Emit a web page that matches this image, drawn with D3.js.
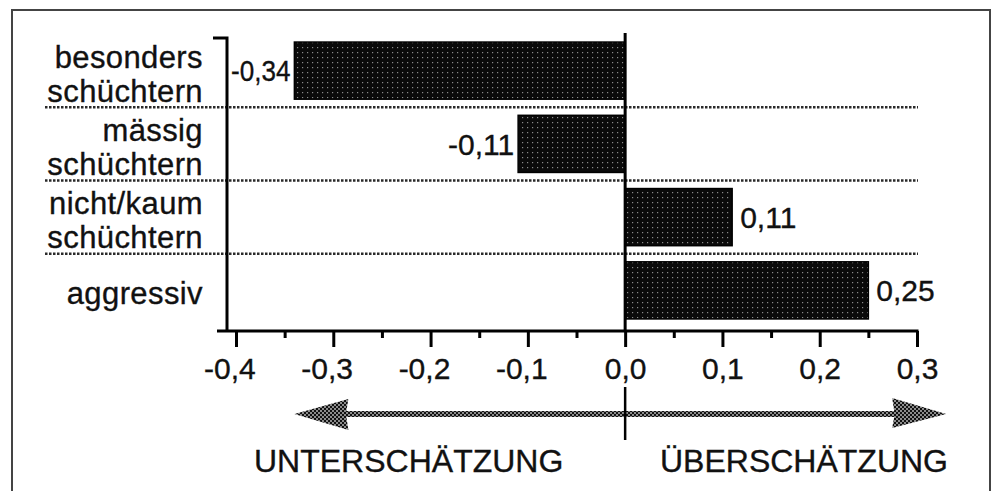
<!DOCTYPE html>
<html>
<head>
<meta charset="utf-8">
<script src="https://cdn.jsdelivr.net/npm/d3@7"></script>
<style>
	body { margin: 0; background: #fff; }
	text { font-family: "Liberation Sans", Arial, Helvetica, sans-serif; fill: #111; stroke: #111; stroke-width: 0.35px; }
</style>
</head>
<body>
<div class="chart"></div>
<script>
// data
const categories = ['besonders schüchtern', 'mässig schüchtern', 'nicht/kaum schüchtern', 'aggressiv']
const categoryLines = [['besonders', 'schüchtern'], ['mässig', 'schüchtern'], ['nicht/kaum', 'schüchtern'], ['aggressiv']]
const values = [-0.34, -0.11, 0.11, 0.25]
const valueLabels = ['-0,34', '-0,11', '0,11', '0,25']
const tickValues = [-0.4, -0.3, -0.2, -0.1, 0, 0.1, 0.2, 0.3]
const tickLabels = ['-0,4', '-0,3', '-0,2', '-0,1', '0,0', '0,1', '0,2', '0,3']
const minorTicks = [-0.35, -0.25, -0.15, -0.05, 0.05, 0.15, 0.25]
const directionLabels = ['UNTERSCHÄTZUNG', 'ÜBERSCHÄTZUNG']
const arrowExtent = [-0.34, 0.33]

const width = 992
const height = 491

const svg = d3.select('.chart')
	.append('svg')
	.attr('width', width)
	.attr('height', height)
	.attr('viewBox', [0, 0, width, height])

// fill patterns (stippled bars, checkered arrow)
const defs = svg.append('defs')
const barPat = defs.append('pattern')
	.attr('id', 'stipple')
	.attr('patternUnits', 'userSpaceOnUse')
	.attr('width', 5).attr('height', 5)
barPat.append('rect').attr('width', 5).attr('height', 5).attr('fill', '#0a0a0a')
barPat.append('rect').attr('x', 2).attr('y', 2).attr('width', 1.2).attr('height', 1.2).attr('fill', '#8a8a8a')

const arrowPat = defs.append('pattern')
	.attr('id', 'checker')
	.attr('patternUnits', 'userSpaceOnUse')
	.attr('width', 4).attr('height', 4)
arrowPat.append('rect').attr('width', 4).attr('height', 4).attr('fill', '#8c8c8c')
arrowPat.append('rect').attr('width', 2).attr('height', 2).attr('fill', '#111')
arrowPat.append('rect').attr('x', 2).attr('y', 2).attr('width', 2).attr('height', 2).attr('fill', '#111')

// outer frame (bottom edge runs off the picture)
svg.append('rect')
	.attr('x', 12).attr('y', 10)
	.attr('width', 978).attr('height', 500)
	.attr('fill', 'none')
	.attr('stroke', '#444')
	.attr('stroke-width', 2)

const x = d3.scaleLinear().domain([-0.4, 0.3]).range([236, 917])
const y = d3.scaleBand().domain(categories).range([34, 327]).paddingInner(0.22).paddingOuter(0.11)
const axisY = 331

// dotted separators between rows
const seps = categories.slice(1).map(c => y(c) - y.step() * y.paddingInner() / 2)
svg.selectAll('line.sep')
	.data(seps)
	.enter()
	.append('line')
	.attr('class', 'sep')
	.attr('x1', 45).attr('x2', 918)
	.attr('y1', d => d).attr('y2', d => d)
	.attr('stroke', '#2a2a2a')
	.attr('stroke-width', 2.6)
	.attr('stroke-dasharray', '2.5,1.5')

// bars
svg.selectAll('rect.bar')
	.data(values)
	.enter()
	.append('rect')
	.attr('class', 'bar')
	.attr('x', d => x(Math.min(0, d)))
	.attr('y', (d, i) => y(categories[i]))
	.attr('width', d => Math.abs(x(d) - x(0)))
	.attr('height', y.bandwidth())
	.attr('fill', 'url(#stipple)')
	.attr('stroke', '#000')
	.attr('stroke-width', 1.5)

// value labels
svg.selectAll('text.value')
	.data(values)
	.enter()
	.append('text')
	.attr('class', 'value')
	.text((d, i) => valueLabels[i])
	.attr('x', d => d < 0 ? x(d) - 4 : x(d) + 8)
	.attr('y', (d, i) => y(categories[i]) + y.bandwidth() / 2)
	.attr('dy', '0.36em')
	.attr('text-anchor', d => d < 0 ? 'end' : 'start')
	.attr('font-size', '30px')
	.each(function(d) {
		// keep the longest negative label clear of the left axis
		if (d >= 0) return
		const box = this.getBBox()
		if (box.x < 231) {
			d3.select(this)
				.attr('textLength', x(d) - 4 - 231)
				.attr('lengthAdjust', 'spacingAndGlyphs')
		}
	})

// category labels
const catG = svg.selectAll('text.cat')
	.data(categoryLines)
	.enter()
	.append('text')
	.attr('class', 'cat')
	.attr('text-anchor', 'end')
	.attr('font-size', '31px')
	.attr('letter-spacing', '0.4px')
catG.each(function(lines, i) {
	const cy = y(categories[i]) + y.bandwidth() / 2 + 14
	d3.select(this).selectAll('tspan')
		.data(lines)
		.enter()
		.append('tspan')
		.attr('x', 203)
		.attr('y', (d, j) => cy + (j - (lines.length - 1) / 2) * 34)
		.text(d => d)
})

// left axis with small cap at the top
svg.append('path')
	.attr('d', `M213,38H227V${axisY}`)
	.attr('fill', 'none')
	.attr('stroke', '#000')
	.attr('stroke-width', 3)

// zero line
svg.append('line')
	.attr('x1', x(0)).attr('x2', x(0))
	.attr('y1', 33).attr('y2', axisY)
	.attr('stroke', '#000')
	.attr('stroke-width', 3)

// x axis
svg.append('line')
	.attr('x1', 217).attr('x2', x(0.3) + 1.5)
	.attr('y1', axisY).attr('y2', axisY)
	.attr('stroke', '#000')
	.attr('stroke-width', 3)

const xAxis = svg.append('g')
	.attr('transform', `translate(0,${axisY})`)
	.call(d3.axisBottom(x).tickValues(tickValues).tickSize(16).tickFormat((d, i) => tickLabels[i]))
xAxis.select('.domain').remove()
xAxis.selectAll('.tick line').attr('stroke', '#000').attr('stroke-width', 3)
xAxis.selectAll('.tick text')
	.attr('y', 27)
	.attr('dx', d => d < 0 ? '-0.22em' : 0)
	.attr('font-size', '30px')
	.attr('font-family', null)
	.attr('fill', '#111')

const xMinor = svg.append('g')
	.attr('transform', `translate(0,${axisY})`)
	.call(d3.axisBottom(x).tickValues(minorTicks).tickSize(7).tickFormat(''))
xMinor.select('.domain').remove()
xMinor.selectAll('.tick line').attr('stroke', '#000').attr('stroke-width', 3)

// direction arrow
const ay = 414
const xl = x(arrowExtent[0])
const xr = x(arrowExtent[1])
const head = 54
svg.append('path')
	.attr('d', `M${xl},${ay} L${xl + head},${ay - 15} L${xl + head - 2},${ay - 3} L${xr - head + 2},${ay - 3} L${xr - head},${ay - 16} L${xr},${ay} L${xr - head},${ay + 14} L${xr - head + 2},${ay + 3} L${xl + head - 2},${ay + 3} L${xl + head},${ay + 16} Z`)
	.attr('fill', 'url(#checker)')

svg.append('line')
	.attr('x1', x(0)).attr('x2', x(0))
	.attr('y1', 387).attr('y2', 440)
	.attr('stroke', '#000')
	.attr('stroke-width', 2.5)

svg.selectAll('text.dir')
	.data(directionLabels)
	.enter()
	.append('text')
	.attr('class', 'dir')
	.text(d => d)
	.attr('x', (d, i) => i === 0 ? 254 : 948)
	.attr('y', 472)
	.attr('text-anchor', (d, i) => i === 0 ? 'start' : 'end')
	.attr('font-size', '32px')
</script>
</body>
</html>
